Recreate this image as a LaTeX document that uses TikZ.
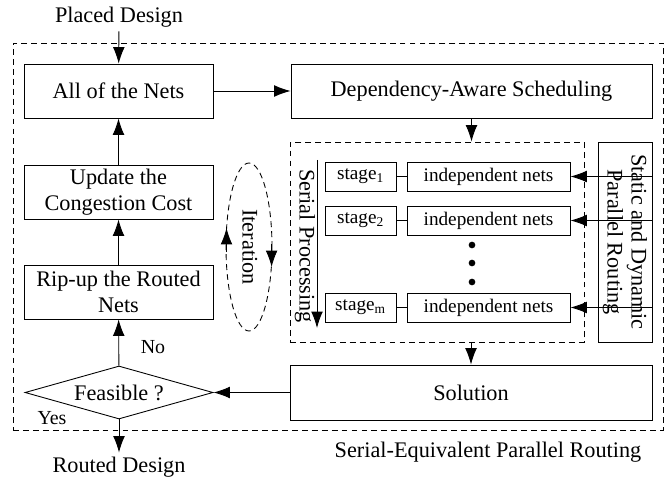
\documentclass[tikz,border=0pt]{standalone}
\usepackage{fontspec}
\setmainfont{Liberation Serif}
\usetikzlibrary{arrows.meta}
\usetikzlibrary{shapes.geometric}
\tikzset{>={Latex[length=14pt, width=10pt]}}
\tikzstyle{blk} = [draw, rectangle, align=center, inner sep = 0, minimum width = 5.67cm, minimum height = 1.62cm]
\tikzstyle{stg} = [draw, rectangle, inner sep = 0, minimum width = 2.13cm, minimum height = 0.87cm, font=\fontsize{16.4}{19}\selectfont]
\tikzstyle{ind} = [draw, rectangle, inner sep = 0, minimum width = 4.89cm, minimum height = 0.87cm, font=\fontsize{16.4}{19}\selectfont]
\tikzstyle{frame} = [draw, dash pattern = on 5pt off 3.5pt, rectangle, inner sep = 0]

\begin{document}
\begin{tikzpicture}[x=0.03cm, y=-0.03cm, line width=0.75pt, font=\fontsize{19}{22}\selectfont]
\useasboundingbox (0,0) rectangle (668,481);
\node [frame, minimum width = 19.5cm, minimum height = 11.61cm] (outer) at (338, 236.5) {};
\node [frame, minimum width = 8.82cm, minimum height = 6cm] (grp) at (437, 242) {};

\node [draw=none]  (pd) at (119, 17) {Placed Design};
\node [blk]  (net) at (118.5, 91) {All of the Nets};
\node [blk]  (upd) at (118.5, 192) {Update the\\Congestion Cost};
\node [blk]  (rip) at (118.5, 292) {Rip-up the Routed\\Nets};
\node [draw, diamond, aspect = 3.5, inner sep = 0, minimum width = 5.64cm, minimum height = 1.59cm]  (feas) at (119, 392.5) {Feasible ?};
\node [draw=none]  (rd) at (119, 467) {Routed Design};
\node [draw=none, font=\fontsize{17}{20}\selectfont]  (no) at (153, 347) {No};
\node [draw=none, font=\fontsize{17}{20}\selectfont]  (yes) at (52, 418) {Yes};

\node [blk, minimum width = 10.83cm]  (sched) at (471.5, 91) {Dependency-Aware Scheduling};
\node [blk, minimum width = 10.86cm, minimum height = 1.65cm]  (sol) at (471, 392.5) {Solution};
\node [blk, rotate = -90, minimum width = 6cm, minimum height = 1.62cm, font=\fontsize{19}{20.5}\selectfont]  (spr) at (625, 242) {Static and Dynamic\\Parallel Routing};

\node [stg]  (s1) at (360.5, 176.5) {stage\textsubscript{1}};
\node [stg]  (s2) at (360.5, 220.5) {stage\textsubscript{2}};
\node [stg]  (sm) at (360.5, 307.5) {stage\textsubscript{m}};
\node [ind]  (i1) at (488.5, 176.5) {independent nets};
\node [ind]  (i2) at (488.5, 220.5) {independent nets};
\node [ind]  (im) at (488.5, 307.5) {independent nets};
\foreach \y in {245, 263, 282} \fill (472, \y) circle (0.1cm);

\coordinate (sp1) at (317, 160);
\coordinate (sp2) at (317, 328);
\node [draw=none, rotate = -90]  (spl) at (305, 246) {Serial Processing};

\draw [dash pattern = on 5pt off 3.5pt] (249, 247) ellipse [x radius = 0.69cm, y radius = 2.52cm];
\draw [->] (226.5, 252) -- (226.5, 228);
\draw [->] (271.6, 244) -- (271.6, 267);
\node [draw=none, rotate = -90]  (it) at (250, 247) {Iteration};

\draw [->] (pd) -- (net);
\draw [->] (upd) -- (net);
\draw [->] (rip) -- (upd);
\draw [->] (feas) -- (rip);
\draw [->] (feas) -- (rd);
\draw [->] (net) -- (sched);
\draw [->] (sched.south) -- (sched.south |- grp.north);
\draw [->] (sol.north |- grp.south) -- (sol.north);
\draw [->] (sol) -- (feas);
\draw [->] (sp1) -- (sp2);
\foreach \s/\i in {s1/i1, s2/i2, sm/im} {
  \draw (\s) -- (\i);
  \draw [->] (spr.north |- \i) -- (\i);
}
\node [draw=none]  (sepr) at (488, 452) {Serial-Equivalent Parallel Routing};
\end{tikzpicture}
\end{document}
